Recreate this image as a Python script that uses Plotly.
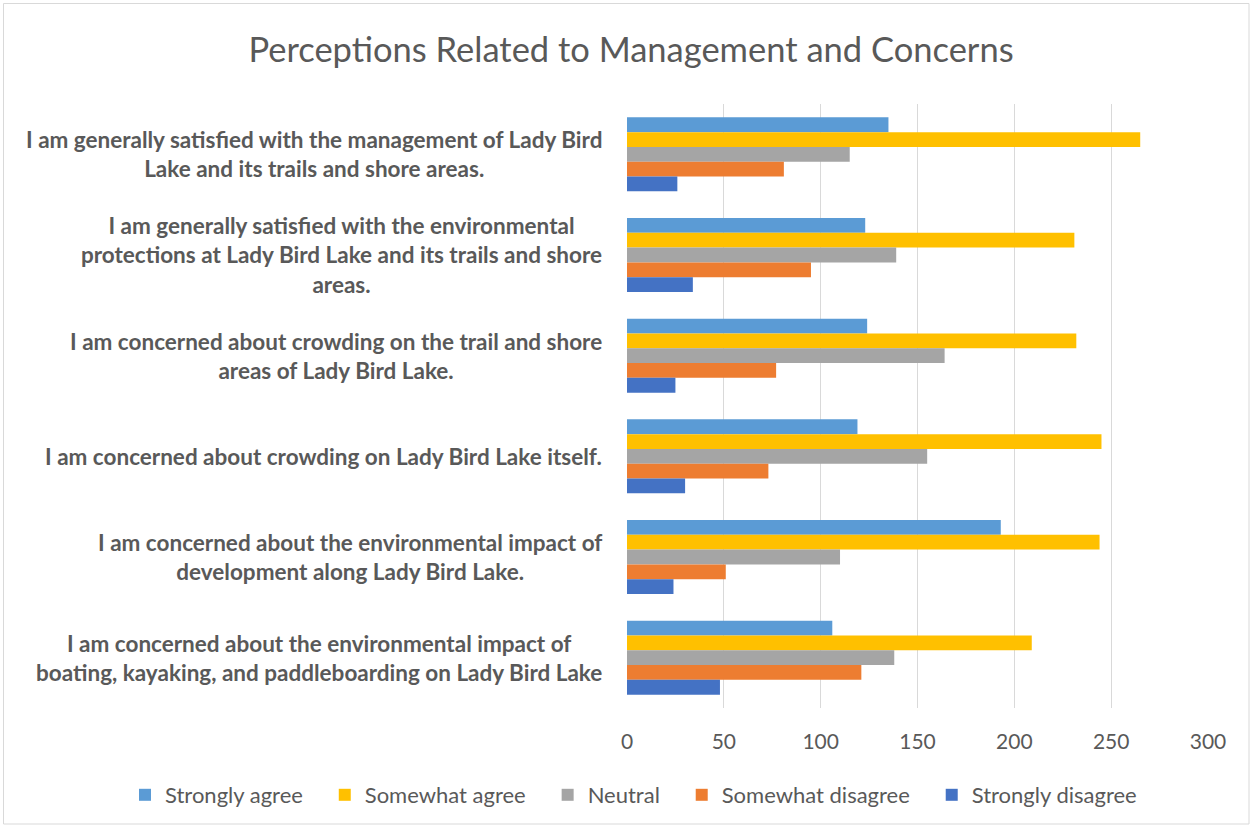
import plotly.graph_objects as go

categories = [
    "I am generally satisfied with the management of Lady Bird<br>Lake and its trails and shore areas.",
    "I am generally satisfied with the environmental<br>protections at Lady Bird Lake and its trails and shore<br>areas.",
    "I am concerned about crowding on the trail and shore<br>areas of Lady Bird Lake.",
    "I am concerned about crowding on Lady Bird Lake itself.",
    "I am concerned about the environmental impact of<br>development along Lady Bird Lake.",
    "I am concerned about the environmental impact of<br>boating, kayaking, and paddleboarding on Lady Bird Lake",
]
series_names = ["Strongly agree", "Somewhat agree", "Neutral", "Somewhat disagree", "Strongly disagree"]
strongly_agree = [135, 123, 124, 119, 193, 106]
somewhat_agree = [265, 231, 232, 245, 244, 209]
neutral = [115, 139, 164, 155, 110, 138]
somewhat_disagree = [81, 95, 77, 73, 51, 121]
strongly_disagree = [26, 34, 25, 30, 24, 48]
series_values = [strongly_agree, somewhat_agree, neutral, somewhat_disagree, strongly_disagree]
colors = ["#5B9BD5", "#FFC000", "#A5A5A5", "#ED7D31", "#4472C4"]
x_ticks = [0, 50, 100, 150, 200, 250, 300]

W, H = 1252, 827
T, B = 104, 119
ph = H - T - B
X0, X1 = 627, 1208  # plot area horizontal pixel extent
FONT = "Lato"
GREY = "#595959"
PAD = "\u00a0" * 3  # extra spacing between legend entries

fig = go.Figure()
for name, vals, c in zip(series_names, series_values, colors):
    fig.add_trace(go.Bar(
        y=categories, x=vals, name=name + PAD, orientation="h",
        marker=dict(color=c, line=dict(width=0)),
    ))

annotations = []
for cat in categories:
    lines = cat.split("<br>")
    annotations.append(dict(
        xref="paper", yref="y", x=X0 / W, y=cat, xshift=-23,
        text="<br>".join("<b>" + ln + "</b>" for ln in lines), showarrow=False,
        xanchor="right", yanchor="middle", align="center",
        font=dict(family=FONT, size=22.5, color=GREY),
    ))

fig.update_layout(
    width=W, height=H,
    margin=dict(l=0, r=0, t=T, b=B, autoexpand=False),
    paper_bgcolor="white", plot_bgcolor="white",
    barmode="group", bargap=0.265, bargroupgap=0,
    title=dict(text="Perceptions Related to Management and Concerns", x=631 / W, xref="container",
               xanchor="center", y=1 - 50 / H, yref="container", yanchor="middle",
               font=dict(family=FONT, size=34.5, color=GREY)),
    xaxis=dict(domain=[X0 / W, X1 / W], range=[0, 300], tickvals=x_ticks, showgrid=True,
               gridcolor="#D9D9D9", gridwidth=1, zeroline=False, showline=False, ticks="",
               ticklabelstandoff=19,
               tickfont=dict(family=FONT, size=21, color=GREY)),
    yaxis=dict(autorange="reversed", showticklabels=False, ticks="", showgrid=False, zeroline=False,
               showline=False, anchor="x"),
    legend=dict(orientation="h", x=642 / W, xanchor="center",
                yref="container", y=1 - 795 / H, yanchor="middle",
                font=dict(family=FONT, size=22, color=GREY), traceorder="normal"),
    showlegend=True,
    annotations=annotations,
    shapes=[dict(type="rect", xref="paper", yref="paper",
                 x0=3.5 / W, x1=1249 / W,
                 y0=(H - B - 824) / ph, y1=(H - B - 3.5) / ph,
                 line=dict(color="#D9D9D9", width=1), fillcolor="rgba(0,0,0,0)", layer="below")],
)

fig.write_html("out.html", config={"displayModeBar": False},
               post_script="document.body.style.margin='0';")
